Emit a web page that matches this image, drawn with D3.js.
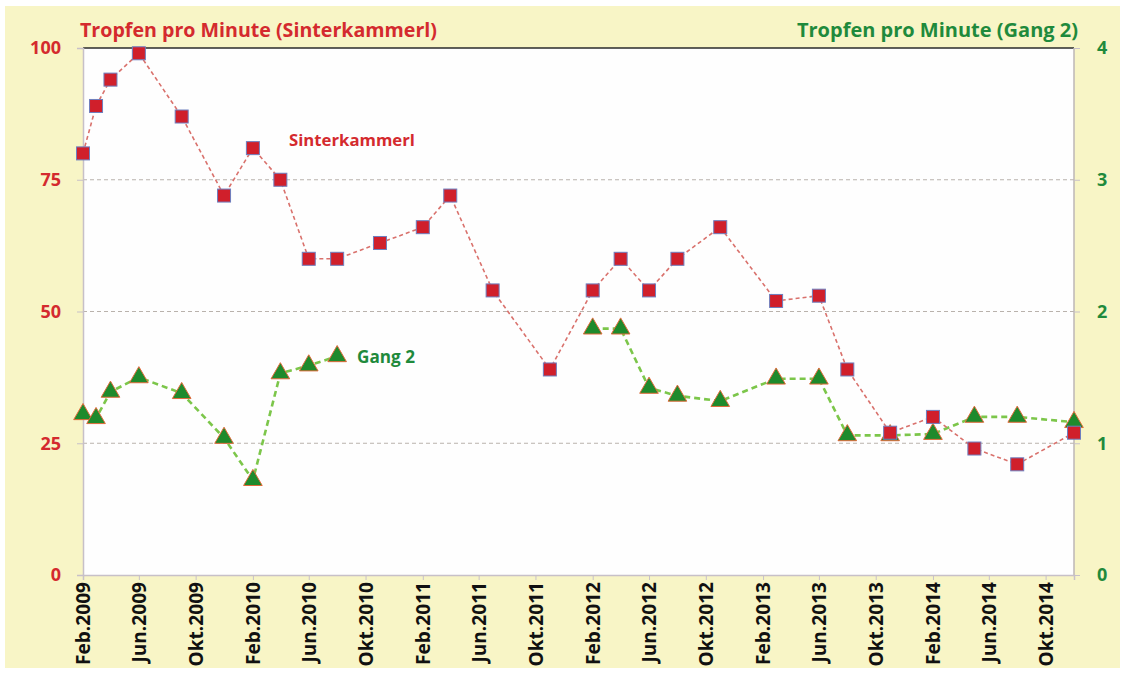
<!DOCTYPE html>
<html>
<head>
<meta charset="utf-8">
<script src="https://cdnjs.cloudflare.com/ajax/libs/d3/7.8.5/d3.min.js"></script>
<style>
  html, body { margin: 0; padding: 0; background: #ffffff; }
  svg { display: block; }
  text { font-family: "Open Sans", Lato, sans-serif; font-weight: bold; }
</style>
</head>
<body>
<svg id="chart" width="1125" height="674"></svg>
<script>
// ---- data ----
const sinterMonths = ["2009-02","2009-03","2009-04","2009-06","2009-09","2009-12","2010-02","2010-04","2010-06","2010-08","2010-11","2011-02","2011-04","2011-07","2011-11","2012-02","2012-04","2012-06","2012-08","2012-11","2013-03","2013-06","2013-08","2013-11","2014-02","2014-05","2014-08","2014-12"];
const sinterValues = [80, 89, 94, 99, 87, 72, 81, 75, 60, 60, 63, 66, 72, 54, 39, 54, 60, 54, 60, 66, 52, 53, 39, 27, 30, 24, 21, 27];
const gangValues   = [1.22, 1.19, 1.39, 1.50, 1.38, 1.04, 0.72, 1.53, 1.59, 1.66, null, null, null, null, null, 1.87, 1.87, 1.42, 1.36, 1.32, 1.49, 1.49, 1.06, 1.06, 1.07, 1.20, 1.20, 1.16];
const tickMonths = ["2009-02","2009-06","2009-10","2010-02","2010-06","2010-10","2011-02","2011-06","2011-10","2012-02","2012-06","2012-10","2013-02","2013-06","2013-10","2014-02","2014-06","2014-10"];
const tickLabels = ["Feb.2009","Jun.2009","Okt.2009","Feb.2010","Jun.2010","Okt.2010","Feb.2011","Jun.2011","Okt.2011","Feb.2012","Jun.2012","Okt.2012","Feb.2013","Jun.2013","Okt.2013","Feb.2014","Jun.2014","Okt.2014"];
const leftTicks = [0, 25, 50, 75, 100];
const rightTicks = [0, 1, 2, 3, 4];
const gridValues = [25, 50, 75];
const titleLeft = "Tropfen pro Minute (Sinterkammerl)";
const titleRight = "Tropfen pro Minute (Gang 2)";

// ---- layout ----
const parse = d3.timeParse("%Y-%m");
const L = 83, R = 1074, T = 48, B = 575;
const svg = d3.select("#chart");

const x = d3.scaleTime().domain([parse("2009-02"), parse("2014-12")]).range([L, R]);
const yL = d3.scaleLinear().domain([0, 100]).range([B, T]);
const yR = d3.scaleLinear().domain([0, 4]).range([B, T]);

const red = "#d42a2e", green = "#1f8a3c";

// scale a text's font size so it spans the given width
function fit(sel, w) {
  sel.each(function() {
    const cur = parseFloat(getComputedStyle(this).fontSize);
    const len = this.getComputedTextLength();
    if (len > 0) d3.select(this).style("font-size", (cur * w / len).toFixed(2) + "px");
  });
}

// background
svg.append("rect").attr("x", 5).attr("y", 6).attr("width", 1115).attr("height", 662).attr("fill", "#f8f5c6");
svg.append("rect").attr("x", L).attr("y", T).attr("width", R - L).attr("height", B - T).attr("fill", "#fefefe");

// grid
svg.append("g").selectAll("line").data(gridValues).join("line")
  .attr("x1", L).attr("x2", R)
  .attr("y1", d => yL(d)).attr("y2", d => yL(d))
  .attr("stroke", "#b9b2ac").attr("stroke-width", 1).attr("stroke-dasharray", "4,3");

// frame lines
svg.append("line").attr("x1", L).attr("x2", R).attr("y1", T).attr("y2", T).attr("stroke", "#2a2a2a").attr("stroke-width", 1.5);
svg.append("line").attr("x1", R).attr("x2", R).attr("y1", T).attr("y2", B).attr("stroke", "#bdb6b6").attr("stroke-width", 1.5);

// left axis
const gL = svg.append("g").attr("transform", `translate(${L},0)`)
  .call(d3.axisLeft(yL).tickValues(leftTicks).tickSize(6).tickPadding(16));
gL.select(".domain").attr("stroke", "#c7c0c8").attr("stroke-width", 1.5);
gL.selectAll(".tick line").attr("stroke", "#c7c0c8");
gL.selectAll(".tick text").attr("fill", red).style("font-size", "18px").style("font-family", "'Open Sans', sans-serif").style("font-weight", "bold");

// right axis
const gR = svg.append("g").attr("transform", `translate(${R},0)`)
  .call(d3.axisRight(yR).tickValues(rightTicks).tickSize(6).tickPadding(17).tickFormat(d3.format("d")));
gR.select(".domain").remove();
gR.selectAll(".tick line").attr("stroke", "#c7c0c8");
gR.selectAll(".tick text").attr("fill", green).style("font-size", "18px").style("font-family", "'Open Sans', sans-serif").style("font-weight", "bold");

// bottom axis
const tickDates = tickMonths.map(parse);
const gB = svg.append("g").attr("transform", `translate(0,${B})`)
  .call(d3.axisBottom(x).tickValues(tickDates).tickSize(5).tickFormat((d, i) => tickLabels[i]));
gB.select(".domain").attr("stroke", "#c7c0c8").attr("stroke-width", 1.5);
gB.selectAll(".tick line").attr("stroke", "#c7c0c8");
gB.selectAll(".tick text")
  .attr("fill", "#111")
  .style("font-size", "15px").style("font-family", "'Open Sans', sans-serif").style("font-weight", "bold")
  .attr("transform", "rotate(-90)")
  .attr("text-anchor", "end")
  .attr("x", -7).attr("y", 0).attr("dy", "0.35em");
const refLen = gB.select(".tick text").node().getComputedTextLength();
gB.selectAll(".tick text").style("font-size", (15 * 83 / refLen).toFixed(2) + "px");

// data
const sData = sinterMonths.map((m, i) => ({ d: parse(m), v: sinterValues[i] }));
const gData = sinterMonths.map((m, i) => ({ d: parse(m), v: gangValues[i] }));

// lines
svg.append("path").datum(gData)
  .attr("fill", "none").attr("stroke", "#7cc64a").attr("stroke-width", 2.6).attr("stroke-dasharray", "6,4")
  .attr("d", d3.line().defined(p => p.v != null).x(p => x(p.d)).y(p => yR(p.v)));
svg.append("path").datum(sData)
  .attr("fill", "none").attr("stroke", "#d9716c").attr("stroke-width", 1.6).attr("stroke-dasharray", "4,3")
  .attr("d", d3.line().x(p => x(p.d)).y(p => yL(p.v)));

// markers
svg.append("g").selectAll("path").data(gData.filter(p => p.v != null)).join("path")
  .attr("d", d3.symbol().type(d3.symbolTriangle).size(150))
  .attr("transform", p => `translate(${x(p.d)},${yR(p.v)})`)
  .attr("fill", "#1e8a2c").attr("stroke", "#e06a3a").attr("stroke-width", 1);
svg.append("g").selectAll("rect").data(sData).join("rect")
  .attr("x", p => x(p.d) - 6.5).attr("y", p => yL(p.v) - 6.5)
  .attr("width", 13).attr("height", 13)
  .attr("fill", "#d01f2b").attr("stroke", "#6e7fbf").attr("stroke-width", 1);

// titles
svg.append("text").attr("x", 80).attr("y", 37).attr("fill", red).style("font-size", "19px").text(titleLeft).call(fit, 357);
svg.append("text").attr("x", 1078).attr("y", 37).attr("text-anchor", "end").attr("fill", green).style("font-size", "19px").text(titleRight).call(fit, 281);

// series labels
svg.append("text").attr("x", 289).attr("y", 146).attr("fill", red).style("font-size", "17px").text("Sinterkammerl").call(fit, 126);
svg.append("text").attr("x", 357).attr("y", 363).attr("fill", green).style("font-size", "17px").text("Gang 2").call(fit, 58);
</script>
</body>
</html>
